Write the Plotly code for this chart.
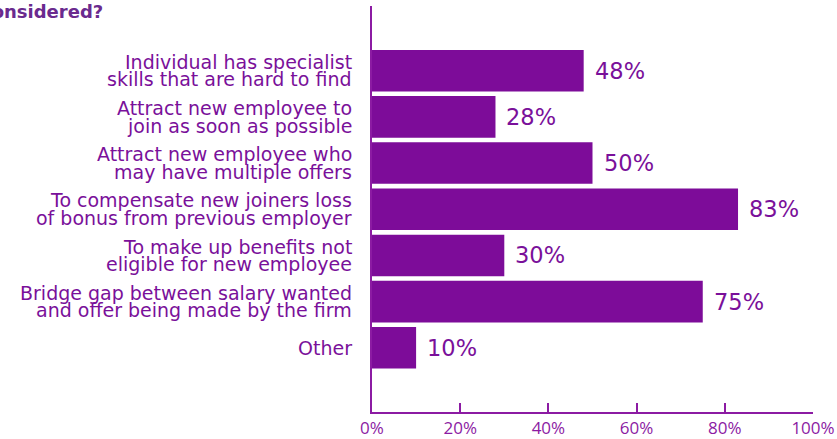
import plotly.graph_objects as go

categories = [
    "Individual has specialist<br>skills that are hard to find",
    "Attract new employee to<br>join as soon as possible",
    "Attract new employee who<br>may have multiple offers",
    "To compensate new joiners loss<br>of bonus from previous employer",
    "To make up benefits not<br>eligible for new employee",
    "Bridge gap between salary wanted<br>and offer being made by the firm",
    "Other",
]
values = [48, 28, 50, 83, 30, 75, 10]
tick_vals = [0, 20, 40, 60, 80, 100]
tick_text = ["0%", "20%", "40%", "60%", "80%", "100%"]
title_text = "considered?"

BAR = "#7d0c99"
AXIS = "#8c1ba3"
TEXT = "#7a109a"
LABEL_FONT = "DejaVu Sans"
TICK_FONT = "Open Sans"

W, H = 837, 439
M = dict(l=372, r=24, t=6, b=27)
LINE = 17.5  # line pitch of the category labels, px

idx = list(range(len(categories)))

fig = go.Figure(
    go.Bar(
        x=values,
        y=idx,
        orientation="h",
        marker=dict(color=BAR, line=dict(width=0)),
        width=0.9,
        hoverinfo="skip",
    )
)

annotations = []
# category labels, one annotation per line for tight line spacing
for i, label in zip(idx, categories):
    lines = label.split("<br>")
    n = len(lines)
    for k, line in enumerate(lines):
        shift = (n - 1) / 2 * LINE - k * LINE
        annotations.append(dict(
            x=0, y=i, xref="x", yref="y", text=line, showarrow=False,
            xanchor="right", yanchor="middle", xshift=-18, yshift=shift,
            font=dict(family=LABEL_FONT, size=19, color=TEXT),
        ))
# value labels
for i, v in zip(idx, values):
    annotations.append(dict(
        x=v, y=i, xref="x", yref="y", text=f"{v}%", showarrow=False,
        xanchor="left", yanchor="middle", xshift=9, yshift=0,
        font=dict(family=LABEL_FONT, size=22.5, color=TEXT),
    ))

# heading, partly running off the left edge (placed in pixels -> paper units)
plot_w = W - M["l"] - M["r"]
plot_h = H - M["t"] - M["b"]
annotations.append(dict(
    x=(105 - M["l"]) / plot_w, y=(H - M["b"] - 11) / plot_h,
    xref="paper", yref="paper", text=f"<b>{title_text}</b>",
    showarrow=False, xanchor="right", yanchor="middle",
    font=dict(family=LABEL_FONT, size=18, color="#6a2a8e"),
))

fig.update_layout(
    width=W, height=H,
    margin=M,
    paper_bgcolor="white", plot_bgcolor="white",
    showlegend=False,
    annotations=annotations,
    xaxis=dict(
        range=[0, 100], tickvals=tick_vals, ticktext=tick_text,
        automargin=False,
        showgrid=False, zeroline=False, showline=True,
        linecolor=AXIS, linewidth=2, ticks="inside", ticklen=9,
        tickcolor=AXIS, tickwidth=2,
        tickfont=dict(family=TICK_FONT, size=17, color=AXIS),
    ),
    yaxis=dict(
        range=[len(categories) - 1 + 1.39, -1.40],
        automargin=False,
        showticklabels=False, showgrid=False, zeroline=False,
        showline=True, linecolor=AXIS, linewidth=2, ticks="",
    ),
)

fig.write_html("out.html")
